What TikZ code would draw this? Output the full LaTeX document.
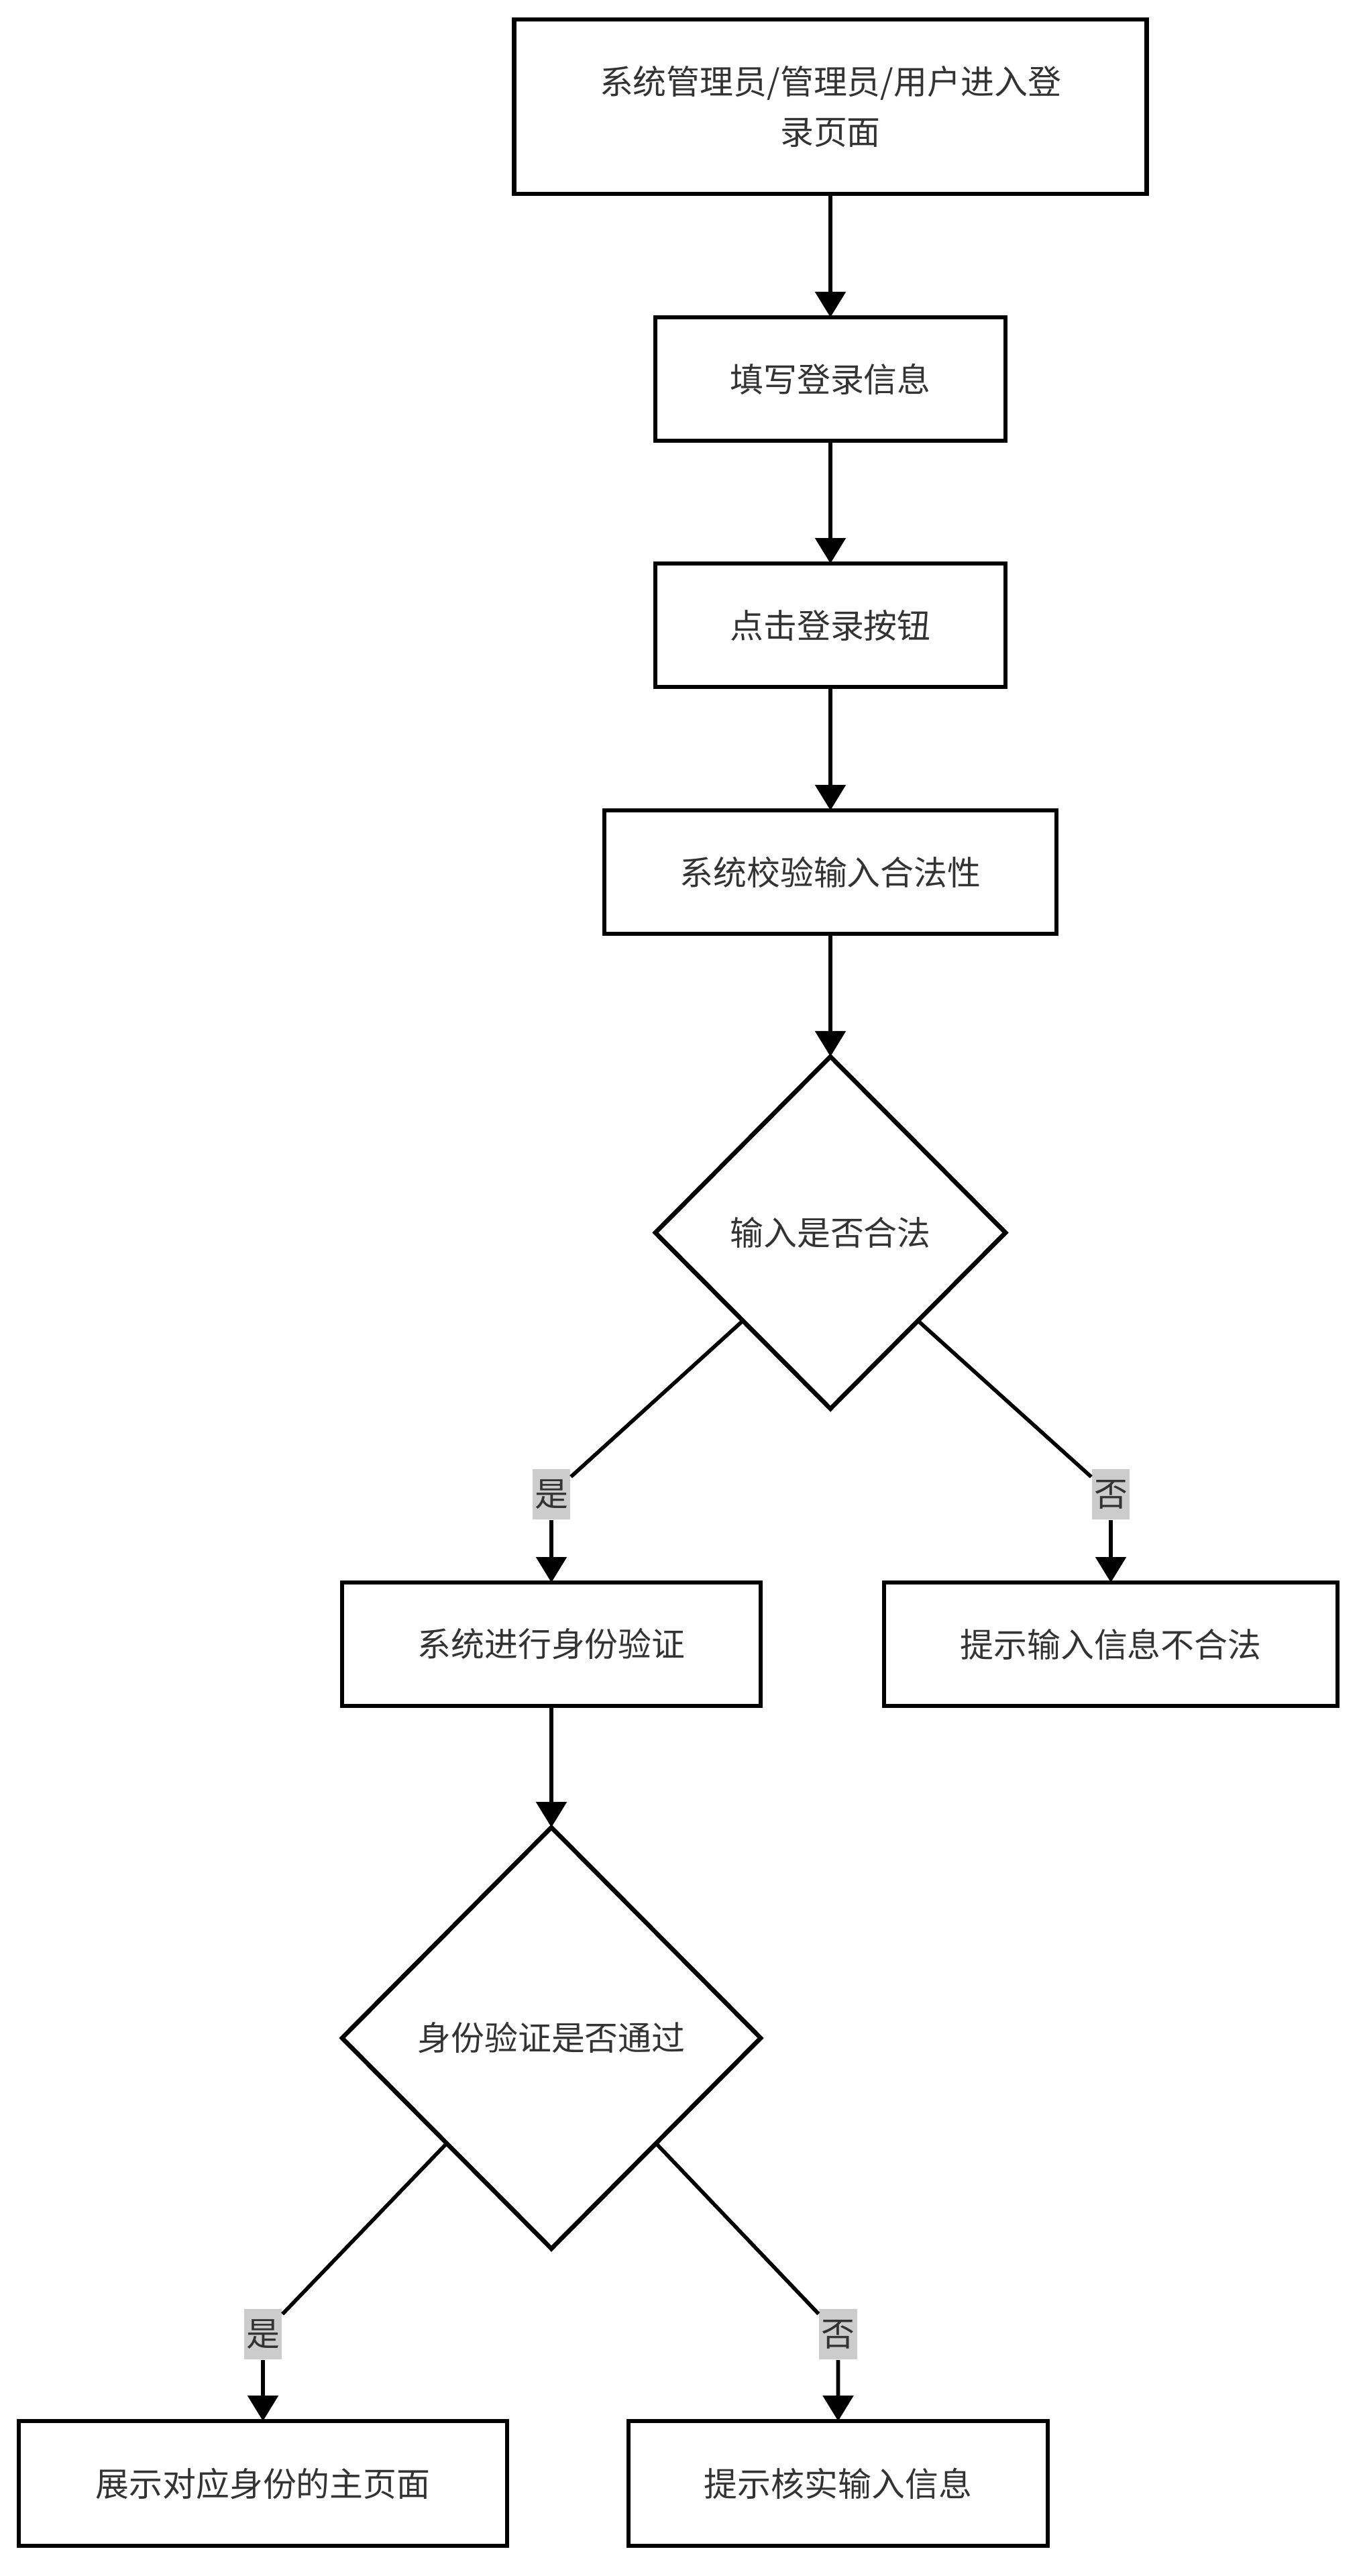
\documentclass[tikz,border=0pt]{standalone}
\usepackage{fontspec}
\setmainfont{Noto Sans CJK SC}
\usetikzlibrary{shapes.geometric, arrows.meta, positioning}
\definecolor{txtgray}{HTML}{333333}
\definecolor{lblgray}{HTML}{CCCCCC}

\begin{document}
\begin{tikzpicture}[
    node distance=1.84cm,
    box/.style={rectangle, draw, line width=1.9pt, outer sep=0pt, minimum width=5.22cm,
                minimum height=1.84cm, align=center, text=txtgray,
                font=\fontsize{14.2pt}{21.6pt}\selectfont},
    decision/.style={diamond, draw, line width=1.9pt, outer sep=0pt, inner sep=0pt,
                     align=center, text=txtgray,
                     font=\fontsize{14.2pt}{21.6pt}\selectfont},
    lbl/.style={rectangle, fill=lblgray, inner xsep=1pt, inner ysep=0pt,
                minimum height=0.75cm, text=txtgray,
                font=\fontsize{14.2pt}{21.6pt}\selectfont},
    arrow/.style={-{Triangle[width=0.45cm, length=0.38cm]}, line width=1.6pt},
]
\useasboundingbox (0,0) rectangle (20.31,-38.40);

\node[box, minimum width=9.43cm, minimum height=2.60cm] (login) at (12.38,-1.59)
    {系统管理员/管理员/用户进入登\\录页面};
\node[box, below=1.84cm of login] (fill) {填写登录信息};
\node[box, below=1.83cm of fill] (click) {点击登录按钮};
\node[box, below=1.84cm of click, minimum width=6.74cm] (check) {系统校验输入合法性};
\node[decision, below=1.83cm of check, minimum width=5.22cm, minimum height=5.25cm] (valid)
    {输入是否合法};
\node[box, below=2.59cm of valid, xshift=-4.16cm, minimum width=6.24cm] (auth) {系统进行身份验证};
\node[box, right=1.84cm of auth, minimum width=6.76cm] (invalid) {提示输入信息不合法};
\node[decision, below=1.81cm of auth, minimum width=6.24cm, minimum height=6.28cm] (passed)
    {身份验证是否通过};
\node[box, below=2.57cm of passed, xshift=-4.30cm, minimum width=7.28cm, minimum height=1.86cm] (home)
    {展示对应身份的主页面};
\node[box, right=1.81cm of home, minimum width=6.25cm, minimum height=1.86cm] (recheck)
    {提示核实输入信息};

\node[lbl, above=0.93cm of auth] (yes1) {是};
\node[lbl, above=0.93cm of invalid] (no1) {否};
\node[lbl, above=0.91cm of home] (yes2) {是};
\node[lbl, above=0.91cm of recheck] (no2) {否};

\draw[arrow] (login) -- (fill);
\draw[arrow] (fill) -- (click);
\draw[arrow] (click) -- (check);
\draw[arrow] (check) -- (valid);
\draw[arrow] (valid.south west) -- (yes1) -- (auth);
\draw[arrow] (valid.south east) -- (no1) -- (invalid);
\draw[arrow] (auth) -- (passed);
\draw[arrow] (passed.south west) -- (yes2) -- (home);
\draw[arrow] (passed.south east) -- (no2) -- (recheck);
\end{tikzpicture}
\end{document}
